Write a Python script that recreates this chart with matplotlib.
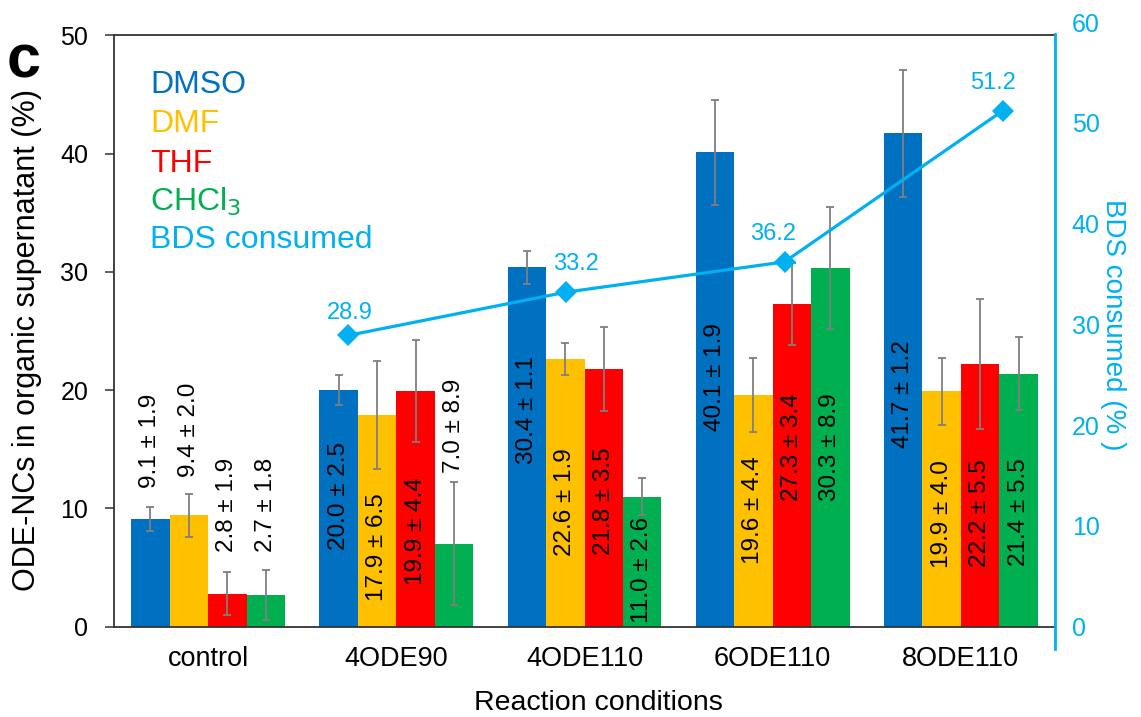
import matplotlib
matplotlib.use("Agg")
import matplotlib.pyplot as plt
import numpy as np

plt.rcParams["font.family"] = ["Liberation Sans", "DejaVu Sans"]

# ---- data -------------------------------------------------------------
conditions = ["control", "4ODE90", "4ODE110", "6ODE110", "8ODE110"]
solvents = ["DMSO", "DMF", "THF", "CHCl$_3$"]

dmso = [9.1, 20.0, 30.4, 40.1, 41.7]
dmf = [9.4, 17.9, 22.6, 19.6, 19.9]
thf = [2.8, 19.9, 21.8, 27.3, 22.2]
chcl3 = [2.7, 7.0, 11.0, 30.3, 21.4]

# standard deviations quoted in the bar labels
dmso_sd = [1.9, 2.5, 1.1, 1.9, 1.2]
dmf_sd = [2.0, 6.5, 1.9, 4.4, 4.0]
thf_sd = [1.9, 4.4, 3.5, 3.4, 5.5]
chcl3_sd = [1.8, 8.9, 2.6, 8.9, 5.5]

# half-lengths of the plotted error bars
dmso_err = [1.05, 1.25, 1.4, 4.45, 5.4]
dmf_err = [1.8, 4.6, 1.35, 3.1, 2.85]
thf_err = [1.85, 4.3, 3.55, 3.45, 5.5]
chcl3_err = [2.1, 5.2, 1.6, 5.15, 3.1]

bds_conditions = ["4ODE90", "4ODE110", "6ODE110", "8ODE110"]
bds_consumed = [28.9, 33.2, 36.2, 51.2]

# ---- styling ------------------------------------------------------------
colors = ["#0070C0", "#FFC000", "#FF0000", "#00B050"]
bds_color = "#00B0F0"
err_color = "#7F7F7F"

# vertical centre of each rotated value label (left-axis units)
label_y = [
    [15.74, 11.05, 18.32, 21.1, 19.67],
    [16.63, 6.69, 10.5, 9.86, 9.53],
    [10.33, 8.09, 10.58, 15.19, 9.61],
    [10.3, 16.97, 4.79, 15.19, 9.7],
]
# offsets (pixels) of the BDS value labels from their markers
bds_label_offset = [(2, 22), (10, 28), (-11, 28), (-10, 28)]

W, H = 1141, 717
fig = plt.figure(figsize=(W / 100, H / 100), dpi=100)

ax_l, ax_b, ax_r, ax_t = 114, 626.7, 1055, 35.2
ax = fig.add_axes([ax_l / W, 1 - ax_b / H, (ax_r - ax_l) / W, (ax_b - ax_t) / H])
ax2_t = 22
ax2 = fig.add_axes([ax_l / W, 1 - ax_b / H, (ax_r - ax_l) / W, (ax_b - ax2_t) / H])
ax2.set_zorder(ax.get_zorder() + 1)
ax2.patch.set_visible(False)

series = [dmso, dmf, thf, chcl3]
sds = [dmso_sd, dmf_sd, thf_sd, chcl3_sd]
errs = [dmso_err, dmf_err, thf_err, chcl3_err]

x = np.arange(len(conditions))
w = 0.2045
for i, (vals, sd, err, c) in enumerate(zip(series, sds, errs, colors)):
    xs = x + (i - 1.5) * w
    ax.bar(xs, vals, w, color=c, linewidth=0, zorder=2,
           yerr=err, error_kw=dict(ecolor=err_color, elinewidth=1.3,
                                   capsize=2.9, capthick=1.3, zorder=3))
    for xi, v, s, ly in zip(xs, vals, sd, label_y[i]):
        ax.text(xi, ly, f"{v:.1f} \u00b1 {s:.1f}", rotation=90,
                ha="center", va="center", fontsize=17.5, color="black", zorder=4)

ax.set_xlim(-0.5, len(conditions) - 0.5)
ax.set_ylim(0, 50)
ax.set_yticks(range(0, 51, 10))
ax.set_xticks(x)
ax.set_xticklabels(conditions)
ax.tick_params(axis="y", length=6.5, width=1.1, pad=12, labelsize=18,
               color="#333333")
ax.tick_params(axis="x", length=0, pad=14, labelsize=19.5)
for side in ["left", "bottom", "top"]:
    ax.spines[side].set_color("#333333")
    ax.spines[side].set_linewidth(1.3)
ax.spines["right"].set_visible(False)

# BDS consumed on the secondary axis
xb = np.arange(len(bds_conditions))
ax2.plot(xb, bds_consumed, color=bds_color, lw=2.3, marker="D",
         markersize=11.7, markeredgewidth=0, zorder=5)
for xi, v, (dx, dy) in zip(xb, bds_consumed, bds_label_offset):
    ax2.annotate(f"{v:.1f}", (xi, v), xytext=(dx * 0.72, dy * 0.72),
                 textcoords="offset points", ha="center", va="center",
                 fontsize=17, color=bds_color)
ax2.set_xlim(-1.072, 3.239)
ax2.set_ylim(0, 60)
ax2.set_xticks([])
ax2.yaxis.tick_right()
ax2.set_yticks(range(0, 61, 10))
ax2.tick_params(axis="y", length=0, pad=12, labelsize=18, labelcolor=bds_color)
for side in ["left", "bottom", "top"]:
    ax2.spines[side].set_visible(False)
ax2.spines["right"].set_color(bds_color)
ax2.spines["right"].set_linewidth(2)
ax2.spines["right"].set_bounds(-2.2, 58.8)

# legend as coloured text entries
legend_labels = solvents + ["BDS consumed"]
legend_colors = colors + [bds_color]
legend_base = [93, 132, 172, 211, 248]
for lab, col, yb in zip(legend_labels, legend_colors, legend_base):
    ax.text((150 - ax_l) / (ax_r - ax_l), (ax_b - yb) / (ax_b - ax_t), lab,
            transform=ax.transAxes, ha="left", va="baseline",
            fontsize=23, color=col, zorder=6)

# axis titles and panel letter
fig.text(27 / W, 1 - 340 / H, "ODE-NCs in organic supernatant (%)",
         rotation=90, ha="center", va="center", fontsize=22)
fig.text(1113 / W, 1 - 325 / H, "BDS consumed (% )", rotation=-90,
         ha="center", va="center", fontsize=20, color=bds_color)
fig.text(598 / W, 1 - 703 / H, "Reaction conditions", ha="center",
         va="center", fontsize=20.5)
fig.text(7 / W, 1 - 78 / H, "c", ha="left", va="baseline", fontsize=44,
         fontweight="bold")

fig.savefig("out.png", dpi=100)
